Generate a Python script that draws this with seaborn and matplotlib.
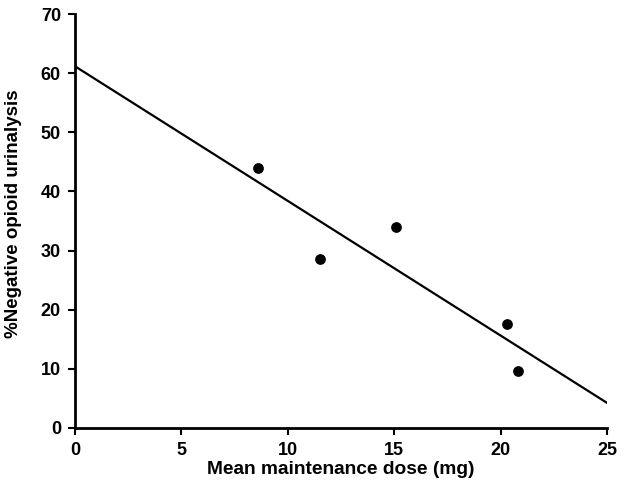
import matplotlib
matplotlib.use('Agg')
import matplotlib.pyplot as plt
import seaborn as sns
import pandas as pd

# Mean maintenance dose vs % negative urinalysis
dose = [8.6, 11.5, 15.1, 20.3, 20.8]
neg_pct = [44.0, 28.6, 34.0, 17.6, 9.6]

# fitted line end points
fit_x = [0, 25]
fit_y = [61.2, 4.2]

data = pd.DataFrame({'dose': dose, 'neg': neg_pct})
fit = pd.DataFrame({'x': fit_x, 'y': fit_y})

sns.set_style('ticks')
plt.rcParams['font.family'] = ['Liberation Sans', 'DejaVu Sans']
plt.rcParams['font.weight'] = 'bold'
plt.rcParams['text.color'] = 'black'
plt.rcParams['axes.labelcolor'] = 'black'
plt.rcParams['xtick.color'] = 'black'
plt.rcParams['ytick.color'] = 'black'

fig = plt.figure(figsize=(6.24, 4.9), dpi=100)
ax = fig.add_axes([0.120, 0.127, 0.853, 0.844])

sns.lineplot(x='x', y='y', data=fit, color='black', linewidth=1.6, ax=ax)
sns.scatterplot(x='dose', y='neg', data=data, color='black', s=60,
                edgecolor='black', linewidth=0, ax=ax, zorder=3)

ax.set_xlim(0, 25)
ax.set_ylim(0, 70)
ax.set_xticks([0, 5, 10, 15, 20, 25])
ax.set_yticks(range(0, 71, 10))
ax.set_xlabel('Mean maintenance dose (mg)', fontsize=13.8, fontweight='bold', labelpad=2)
ax.set_ylabel('%Negative opioid urinalysis', fontsize=13.5, fontweight='bold')
ax.yaxis.set_label_coords(-0.100, 0.518)
ax.tick_params(labelsize=13, width=1.5, length=5, pad=5, color='black', labelcolor='black')
for lab in ax.get_xticklabels() + ax.get_yticklabels():
    lab.set_fontweight('bold')
sns.despine(ax=ax)
for sp in ['left', 'bottom']:
    ax.spines[sp].set_linewidth(2)
    ax.spines[sp].set_color('black')

fig.savefig('out.png', dpi=100)
